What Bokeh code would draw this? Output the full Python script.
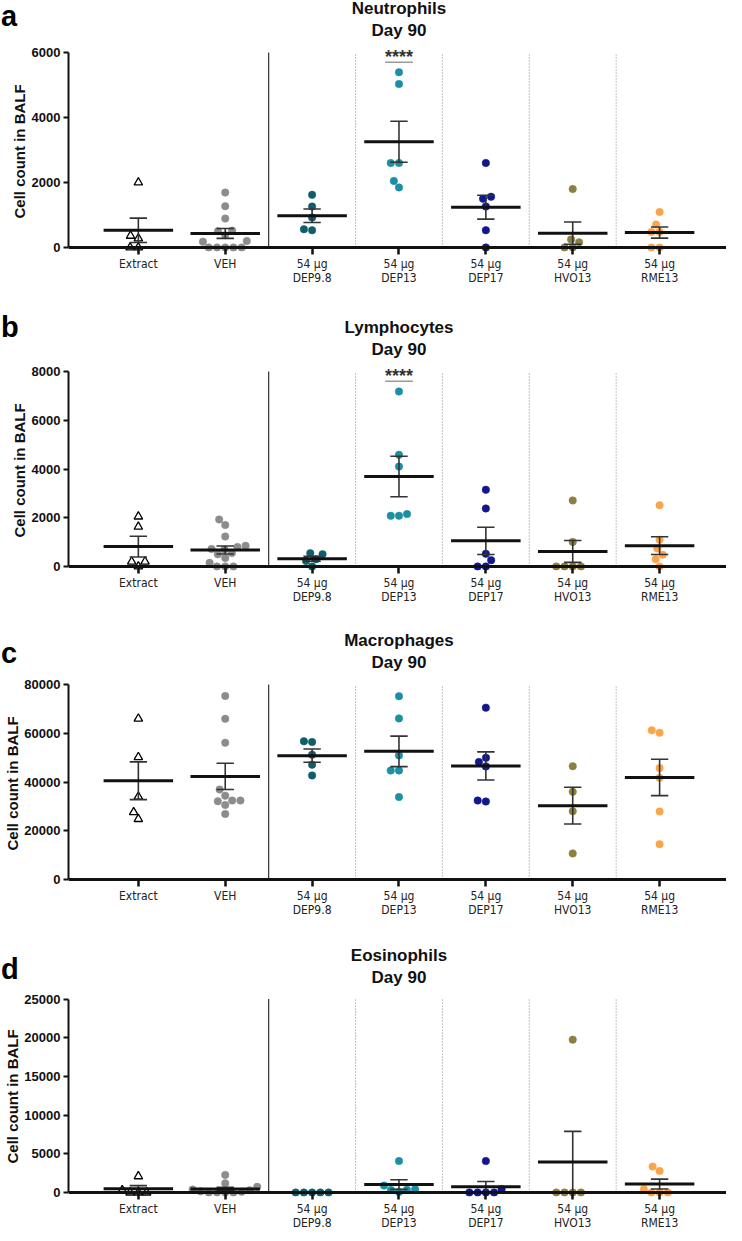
import numpy as np
from bokeh.plotting import figure
from bokeh.layouts import column
from bokeh.models import ColumnDataSource, FixedTicker, Span, Label, Div, Title
from bokeh.embed import file_html
from bokeh.resources import INLINE

# ---------------- data ----------------
group_labels = ["Extract", "VEH", "54 μg\nDEP9.8", "54 μg\nDEP13", "54 μg\nDEP17",
                "54 μg\nHVO13", "54 μg\nRME13"]
group_colors = ["#000000", "#8c8c8c", "#115e6b", "#1b8fa3", "#10188c", "#8c8040", "#faa54b"]

panel_letters = ["a", "b", "c", "d"]
panel_titles = ["Neutrophils", "Lymphocytes", "Macrophages", "Eosinophils"]
panel_subtitle = "Day 90"
y_axis_title = "Cell count in BALF"
y_max = [6000, 8000, 80000, 25000]
y_ticks = [[0, 2000, 4000, 6000],
           [0, 2000, 4000, 6000, 8000],
           [0, 20000, 40000, 60000, 80000],
           [0, 5000, 10000, 15000, 20000, 25000]]

neutrophils = [
    [2000, 360, 280, 0, 0],
    [1690, 1270, 890, 520, 500, 380, 200, 180, 0, 0, 0, 0, 0],
    [1620, 1260, 920, 560, 530],
    [5390, 5030, 2600, 2600, 2050, 1850],
    [2600, 1560, 1500, 1260, 530, 0],
    [1800, 250, 160, 0, 0],
    [1090, 710, 480, 480, 0, 0],
]
lymphocytes = [
    [2050, 1630, 200, 200, 0],
    [1930, 1700, 1230, 850, 800, 720, 700, 550, 500, 350, 150, 0, 0, 0],
    [545, 505, 300, 230, 0],
    [7180, 4580, 4100, 2150, 2080, 2080],
    [3150, 2380, 520, 260, 0, 0],
    [2710, 1010, 0, 0, 0, 0],
    [2510, 1100, 740, 480, 300, 0],
]
macrophages = [
    [66000, 50200, 34000, 27600, 24800],
    [75300, 65900, 56100, 36900, 34400, 32400, 32400, 32100, 30600, 26900],
    [56700, 56400, 51200, 47100, 42700],
    [75200, 66100, 50900, 44700, 44700, 33800],
    [70500, 49900, 48200, 46400, 32400, 32000],
    [46500, 36000, 28000, 10700],
    [61200, 60200, 45700, 41700, 27900, 14500],
]
eosinophils = [
    [2100, 300, 0, 0, 0],
    [2280, 1200, 740, 400, 300, 150, 100, 0, 0, 0, 0],
    [0, 0, 0, 0, 0],
    [4070, 900, 430, 350, 330, 80],
    [4070, 430, 0, 0, 0, 0],
    [19760, 0, 0, 0, 0],
    [3350, 2790, 430, 0, 0, 0],
]
panel_data = [neutrophils, lymphocytes, macrophages, eosinophils]

sig_group = [3, 3, None, None]
sig_line_y = [5700, 7600, None, None]
sig_text = "****"

# ---------------- layout constants ----------------
FIG_W = 726
BORDER_L = 62
PLOT_PX = 195          # pixels from 0 to y max
LOW_PX = 4             # frame below the zero line
TOP_PX = 52            # frame above y max (holds the titles)
FRAME_H = PLOT_PX + LOW_PX + TOP_PX
TITLE_Y = [8, 30]      # title line centres, px from figure top
FIG_HEIGHTS = [319, 313, 315, 286]
LETTER_BASELINE = [26, 18, 31, 32]
STAR_LIFT_PX = 5
YLABEL_OFFSET = 33
X_RANGE = (-0.804, 6.77)
PX_PER_CAT = (FIG_W - BORDER_L) / (X_RANGE[1] - X_RANGE[0])
DOT_D = 8.3

NARROW = "DejaVu Sans Condensed"
SANS = "Liberation Sans"


def swarm(vals, units_per_px):
    n = len(vals)
    ys = [v / units_per_px for v in vals]
    placed = []
    offs = [0.0] * n
    for idx in sorted(range(n), key=lambda k: vals[k]):
        y = ys[idx]
        cands = [0.0]
        for (px, py) in placed:
            dy = abs(py - y)
            if dy < DOT_D:
                dx = (DOT_D ** 2 - dy ** 2) ** 0.5
                cands += [px + dx, px - dx]
        cands.sort(key=lambda c: (round(abs(c), 6), c))
        chosen = cands[-1]
        for c in cands:
            if all((c - px) ** 2 + (y - py) ** 2 >= DOT_D ** 2 - 1e-6 for px, py in placed):
                chosen = c
                break
        placed.append((chosen, y))
        offs[idx] = chosen
    return [o / PX_PER_CAT for o in offs]


def make_panel(k):
    data = panel_data[k]
    ymax = y_max[k]
    fig_h = FIG_HEIGHTS[k]
    upp = ymax / PLOT_PX
    p = figure(width=FIG_W, height=fig_h, x_range=X_RANGE,
               y_range=(-LOW_PX * upp, ymax + TOP_PX * upp), output_backend="svg",
               toolbar_location=None, title=None,
               min_border_left=BORDER_L, min_border_right=0,
               min_border_top=0, min_border_bottom=fig_h - FRAME_H)
    p.xgrid.visible = False
    p.ygrid.visible = False
    p.outline_line_color = None
    p.background_fill_color = "white"

    # titles (inside the frame, above the data area)
    for line_text, ty in zip([panel_titles[k], panel_subtitle], TITLE_Y):
        p.add_layout(Label(x=3, y=ymax + (TOP_PX - ty) * upp, text=line_text,
                           text_align="center", text_baseline="middle",
                           text_font=SANS, text_font_size="17px", text_font_style="bold",
                           text_color="#111111"))

    # separators
    p.segment(x0=[1.5], x1=[1.5], y0=[0], y1=[ymax], line_color="#333333", line_width=1.2)
    p.segment(x0=[2.5, 3.5, 4.5, 5.5], x1=[2.5, 3.5, 4.5, 5.5], y0=[0] * 4, y1=[ymax] * 4,
              line_color="#888888", line_width=1, line_dash="1 2")

    means, sems = [], []
    for g, vals in enumerate(data):
        offs = swarm(vals, upp)
        src = ColumnDataSource(dict(x=[g + o for o in offs], y=vals))
        if g == 0:
            p.scatter("x", "y", source=src, marker="triangle", size=8.5,
                      fill_color="white", line_color="black", line_width=1.3)
        else:
            p.scatter("x", "y", source=src, marker="circle", size=7.5,
                      fill_color=group_colors[g], line_color=group_colors[g], line_width=0.5)
        arr = np.array(vals, dtype=float)
        means.append(arr.mean())
        sems.append(arr.std(ddof=1) / np.sqrt(len(arr)))

    idx = np.arange(len(data))
    means = np.array(means)
    sems = np.array(sems)
    lo = np.maximum(means - sems, 0)
    hi = means + sems
    # error bars
    p.segment(x0=idx, x1=idx, y0=lo, y1=hi, line_color="#333333", line_width=1.6)
    p.segment(x0=idx - 0.1, x1=idx + 0.1, y0=hi, y1=hi, line_color="#333333", line_width=1.6)
    p.segment(x0=idx - 0.1, x1=idx + 0.1, y0=lo, y1=lo, line_color="#333333", line_width=1.6)
    # mean lines
    p.segment(x0=idx - 0.4, x1=idx + 0.4, y0=means, y1=means, line_color="#111111", line_width=3)

    # zero line (x axis line)
    p.add_layout(Span(location=0, dimension="width", line_color="#111111", line_width=3))

    if sig_group[k] is not None:
        gx = sig_group[k]
        p.segment(x0=[gx - 0.16], x1=[gx + 0.16], y0=[sig_line_y[k]], y1=[sig_line_y[k]],
                  line_color="#9a9a9a", line_width=1.5)
        p.add_layout(Label(x=gx, y=sig_line_y[k] + STAR_LIFT_PX * upp, text=sig_text,
                           text_align="center", text_baseline="alphabetic",
                           text_font=SANS, text_font_size="18px", text_font_style="bold",
                           text_color="#333333"))

    # y axis
    ya = p.yaxis[0]
    ya.ticker = FixedTicker(ticks=y_ticks[k])
    ya.bounds = (0, ymax)
    ya.major_label_text_font = SANS
    ya.major_label_text_font_size = "13px"
    ya.major_label_text_font_style = "bold"
    ya.major_label_text_color = "#111111"
    ya.major_label_standoff = 3
    ya.axis_line_width = 2
    ya.axis_line_color = "#111111"
    ya.major_tick_line_width = 2
    ya.major_tick_line_color = "#111111"
    ya.major_tick_out = 5
    ya.major_tick_in = 0
    ya.minor_tick_line_color = None
    # y axis title, centred on the data part of the axis
    p.add_layout(Title(text=y_axis_title, align="left", offset=YLABEL_OFFSET,
                       text_font=SANS, text_font_size="15px", text_font_style="bold",
                       text_color="#111111", standoff=2), "left")

    # x axis
    xa = p.xaxis[0]
    xa.ticker = FixedTicker(ticks=list(range(len(group_labels))))
    xa.major_label_overrides = {i: lab for i, lab in enumerate(group_labels)}
    xa.axis_line_color = None
    xa.major_tick_in = 4
    xa.major_tick_out = 3
    xa.major_tick_line_width = 2.5
    xa.major_tick_line_color = "#111111"
    xa.minor_tick_line_color = None
    xa.major_label_text_font = NARROW
    xa.major_label_text_font_size = "12px"
    xa.major_label_text_color = "#222222"
    xa.major_label_text_line_height = 1.05
    xa.major_label_standoff = 2
    return p


def make_letter(k):
    fig_h = FIG_HEIGHTS[k]
    h = 36
    off = LETTER_BASELINE[k] - 20
    style = ("font-family:'Liberation Sans',Arial,sans-serif;font-size:29px;"
             "font-weight:bold;line-height:20px;color:#000000;margin:0;padding:0;")
    return Div(text=f'<div style="{style}">{panel_letters[k]}</div>', width=34, height=h,
               margin=(-fig_h + off, 0, fig_h - h - off, 1),
               styles={"font-family": "Liberation Sans", "font-size": "29px",
                       "font-weight": "bold", "line-height": "20px", "color": "#000000"})


items = []
for k in range(4):
    items.append(make_panel(k))
    items.append(make_letter(k))
layout = column(*items, spacing=0)
open("out.html", "w").write(file_html(layout, INLINE))
